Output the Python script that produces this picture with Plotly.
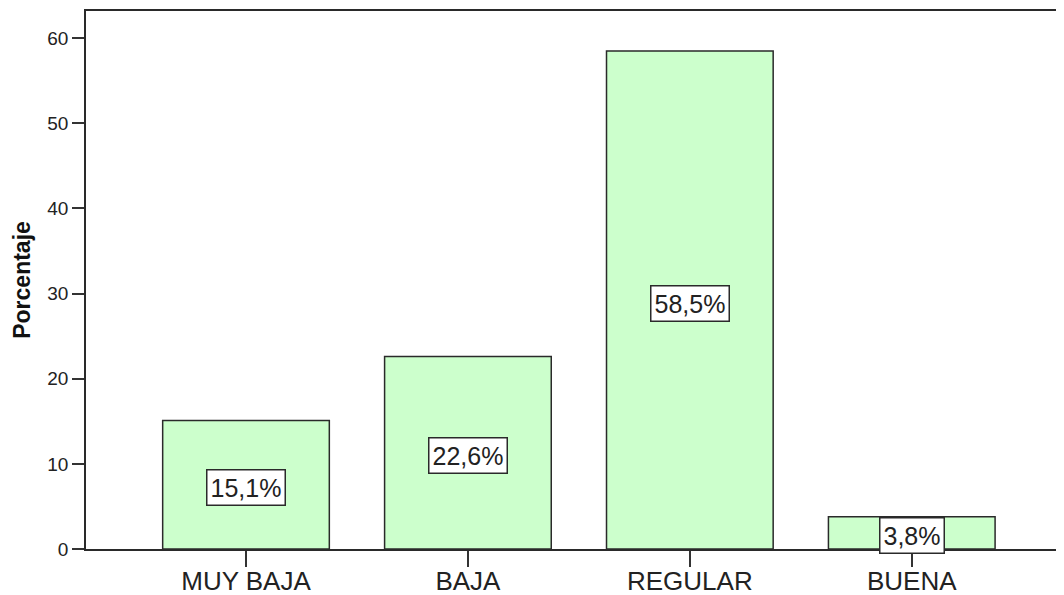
import plotly.graph_objects as go

categories = ["MUY BAJA", "BAJA", "REGULAR", "BUENA"]
values = [15.1, 22.6, 58.5, 3.8]
labels = ["15,1%", "22,6%", "58,5%", "3,8%"]
y_ticks = [0, 10, 20, 30, 40, 50, 60]

FONT = "Liberation Sans, Arial, sans-serif"

fig = go.Figure()
fig.add_trace(go.Bar(
    x=categories, y=values,
    marker=dict(color="#CCFFCC", line=dict(color="#2a2a2a", width=1.5)),
    hoverinfo="skip",
))

for c, v, t in zip(categories, values, labels):
    fig.add_annotation(
        x=c, y=v / 2, text=t, showarrow=False, yshift=-3,
        font=dict(family=FONT, size=25, color="#222222"),
        bgcolor="white", bordercolor="#2a2a2a", borderwidth=1.5, borderpad=3,
    )

# page body has an 8px default margin; compensate so the plot lands where the reference has it
fig.update_layout(
    width=1056, height=587,
    margin=dict(l=78, r=0, t=3, b=46),
    plot_bgcolor="white", paper_bgcolor="white",
    bargap=0.249,
    showlegend=False,
    font=dict(family=FONT, color="#222222"),
)
fig.update_xaxes(
    automargin=False,
    range=[-0.721, 3.686],
    showline=True, linecolor="#2a2a2a", linewidth=1.5, mirror=True,
    ticks="outside", ticklen=16, tickwidth=2, tickcolor="#333333",
    ticklabelstandoff=-8,
    tickfont=dict(family=FONT, size=26, color="#222222"),
    showgrid=False, zeroline=False,
)
fig.update_yaxes(
    automargin=True,
    range=[0, 63.2],
    tickvals=y_ticks,
    showline=True, linecolor="#2a2a2a", linewidth=1.5,
    ticks="outside", ticklen=12, tickwidth=2, tickcolor="#333333",
    tickfont=dict(family=FONT, size=19, color="#222222"),
    showgrid=False, zeroline=False,
    title=dict(text="<b>Porcentaje</b>", font=dict(family=FONT, size=23, color="#111111"), standoff=10),
)

fig.write_html("out.html")
